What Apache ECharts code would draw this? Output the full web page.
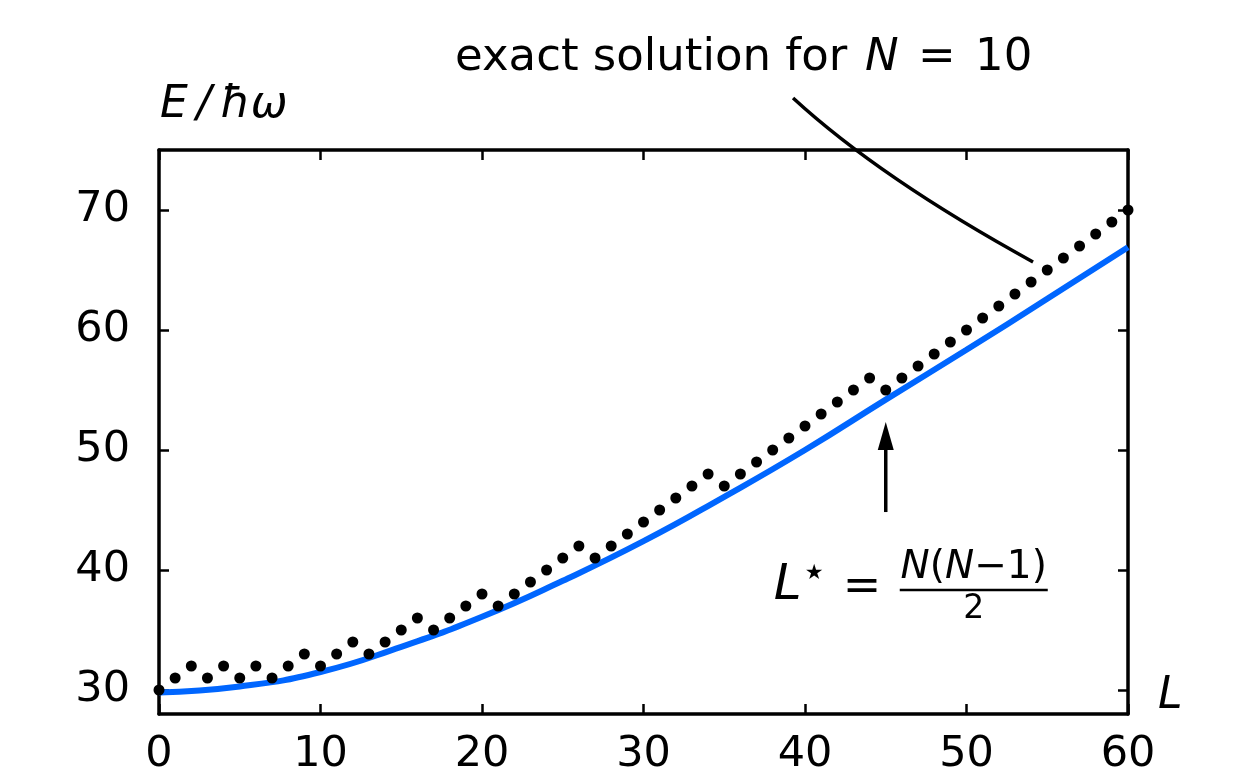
<!DOCTYPE html>
<html><head><meta charset="utf-8">
<script src="https://cdn.jsdelivr.net/npm/echarts@6/dist/echarts.min.js"></script>
<style>html,body{margin:0;padding:0;background:#fff}#c{width:1252px;height:782px}</style>
</head><body><div id="c"></div>
<script>
// exact yrast energies for N = 10 (dots)
const L_exact = [0,1,2,3,4,5,6,7,8,9,10,11,12,13,14,15,16,17,18,19,20,21,22,23,24,25,26,27,28,29,30,31,32,33,34,35,36,37,38,39,40,41,42,43,44,45,46,47,48,49,50,51,52,53,54,55,56,57,58,59,60];
const E_exact = [30,31,32,31,32,31,32,31,32,33,32,33,34,33,34,35,36,35,36,37,38,37,38,39,40,41,42,41,42,43,44,45,46,47,48,47,48,49,50,51,52,53,54,55,56,55,56,57,58,59,60,61,62,63,64,65,66,67,68,69,70];
// approximate (blue) curve
const L_curve = [0,5,10,15,20,25,30,35,40,45,50,55,60];
const E_curve = [29.8,30.3,31.5,33.6,36.1,39.1,42.4,46.1,50.0,54.2,58.35,62.6,66.9];
// axis ticks
const xTicks = [0,10,20,30,40,50,60];
const yTicks = [30,40,50,60,70];
const Lstar = 45;

const FONT = "'DejaVu Sans', sans-serif";
const chart = echarts.init(document.getElementById('c'), null, {renderer:'canvas'});

const axisLine = {show:true, onZero:false, lineStyle:{color:'#000', width:3.5}};
const tick = {show:true, inside:true, length:10, lineStyle:{color:'#000', width:2.5}};

chart.setOption({
  animation:false,
  backgroundColor:'#fff',
  grid:{left:159, right:124, top:150, bottom:68},
  xAxis:[
    {type:'value', min:0, max:60, interval:10, position:'bottom',
     axisLine:axisLine, axisTick:tick,
     axisLabel:{show:true, fontSize:43, color:'#000', margin:19, fontFamily:FONT},
     splitLine:{show:false}},
    {type:'value', min:0, max:60, interval:10, position:'top',
     axisLine:axisLine, axisTick:tick, axisLabel:{show:false}, splitLine:{show:false}}
  ],
  yAxis:[
    {type:'value', min:28, max:75, position:'left',
     axisLine:axisLine,
     axisTick:Object.assign({}, tick, {customValues:yTicks}),
     axisLabel:{show:true, customValues:yTicks, fontSize:43, color:'#000', margin:29, fontFamily:FONT},
     splitLine:{show:false}},
    {type:'value', min:28, max:75, position:'right',
     axisLine:axisLine,
     axisTick:Object.assign({}, tick, {customValues:yTicks}),
     axisLabel:{show:false}, splitLine:{show:false}}
  ],
  series:[
    {type:'line', xAxisIndex:0, yAxisIndex:0, smooth:true, showSymbol:false,
     data:L_curve.map((l,i)=>[l,E_curve[i]]),
     lineStyle:{color:'#0066ff', width:6}, z:2},
    {type:'scatter', xAxisIndex:0, yAxisIndex:0, symbol:'circle', symbolSize:11, clip:false,
     data:L_exact.map((l,i)=>[l,E_exact[i]]),
     itemStyle:{color:'#000', opacity:1}, z:3}
  ]
});

const P = (x,y)=>chart.convertToPixel({seriesIndex:1},[x,y]);
const g = [];
const txt = (x,y,text,size,italic,align,rich)=>g.push({type:'text', x:x, y:y, z:10,
  style:{text:text, fontSize:size, fontFamily:FONT, fontStyle:italic?'italic':'normal',
    fill:'#000', align:align||'left', verticalAlign:'middle', rich:rich}});

// axis names
const o = P(0,75);
txt(o[0]+1, o[1]-44, 'E\u2009/\u2009ħω', 44, true, 'left');
const xe = P(60,28);
txt(xe[0]+30, xe[1]-17, 'L', 44, true, 'left');

// title annotation
const ta = P(39.26, 79.33); // start of pointer curve
txt(ta[0]-338, ta[1]-40, 'exact solution for', 45, false, 'left');
txt(ta[0]+72, ta[1]-40, 'N', 45, true, 'left');
txt(ta[0]+125, ta[1]-40, '=', 45, false, 'left');
txt(ta[0]+182, ta[1]-40, '10', 45, false, 'left');
const tc = P(44.64, 72.67), te = P(54.12, 65.67);
g.push({type:'bezierCurve', z:10, shape:{x1:ta[0], y1:ta[1], cpx1:tc[0], cpy1:tc[1], x2:te[0], y2:te[1]},
  style:{stroke:'#000', lineWidth:3.5, fill:null}});

// arrow at L*
const tail = P(Lstar, 44.83), tip = P(Lstar, 52.33);
g.push({type:'line', z:10, shape:{x1:tail[0], y1:tail[1], x2:tip[0], y2:tip[1]+20}, style:{stroke:'#000', lineWidth:3.5}});
g.push({type:'polygon', z:10, shape:{points:[[tip[0],tip[1]],[tip[0]-8,tip[1]+28],[tip[0]+8,tip[1]+28]]}, style:{fill:'#000'}});

// L* = N(N-1)/2
const bx = tail[0], by = tail[1];
txt(bx-112, by+74, 'L', 50, true, 'left');
txt(bx-81, by+62, '\u2605', 21, false, 'left');
txt(bx-43, by+76, '=', 46, false, 'left');
txt(bx+88, by+56, '{i|N}{n|(}{i|N}{n|\u22121)}', 39, false, 'center', {
  i:{fontSize:39, fontFamily:FONT, fontStyle:'italic', fill:'#000'},
  n:{fontSize:39, fontFamily:FONT, fill:'#000'}});
g.push({type:'line', z:10, shape:{x1:bx+14, y1:by+78, x2:bx+162, y2:by+78}, style:{stroke:'#000', lineWidth:2.5}});
txt(bx+88, by+97, '2', 33, false, 'center');

chart.setOption({graphic:g});
</script>
</body></html>
